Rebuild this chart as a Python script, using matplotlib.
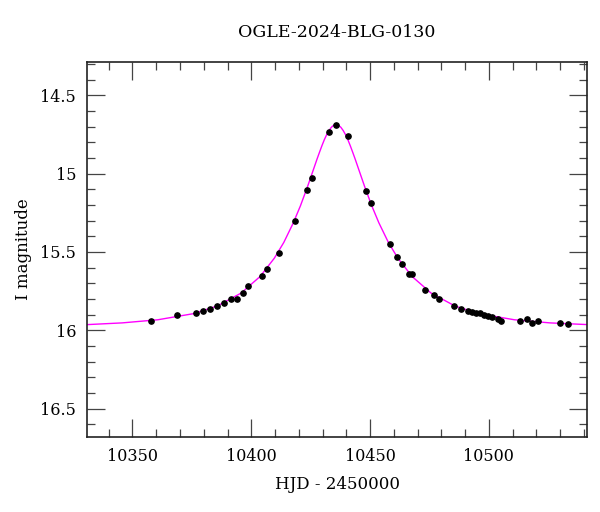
import numpy as np
import matplotlib
matplotlib.use("Agg")
import matplotlib.pyplot as plt
from matplotlib.ticker import MultipleLocator

# OGLE photometry (HJD - 2450000, I mag)
hjd = [10357.8, 10368.7, 10376.7, 10379.5, 10382.6, 10385.5, 10388.7, 10391.6,
       10393.8, 10396.6, 10398.6, 10404.6, 10406.7, 10411.5, 10418.5, 10423.5,
       10425.5, 10432.6, 10435.5, 10440.5, 10448.4, 10450.4, 10458.4, 10461.3,
       10463.4, 10466.2, 10467.5, 10473.2, 10477.1, 10479.1, 10485.4, 10488.2,
       10491.0, 10492.7, 10494.5, 10496.2, 10497.9, 10499.6, 10501.3, 10504.0,
       10505.2, 10513.0, 10516.1, 10518.1, 10520.8, 10529.8, 10533.2]
imag = [15.940, 15.902, 15.891, 15.874, 15.866, 15.847, 15.825, 15.800,
        15.800, 15.764, 15.717, 15.651, 15.606, 15.508, 15.302, 15.104,
        15.030, 14.734, 14.689, 14.760, 15.108, 15.185, 15.451, 15.532,
        15.578, 15.638, 15.642, 15.740, 15.774, 15.802, 15.845, 15.864,
        15.874, 15.881, 15.889, 15.893, 15.904, 15.908, 15.917, 15.925,
        15.942, 15.944, 15.931, 15.951, 15.938, 15.951, 15.963]
ierr = [0.006] * len(hjd)

# model curve (magenta)
model_t = [10331.0, 10345.7, 10360.7, 10375.7, 10385.7, 10395.7, 10403.7, 10409.7,
           10413.7, 10417.7, 10420.7, 10423.7, 10425.7, 10427.7, 10428.7, 10429.7,
           10430.7, 10431.7, 10432.7, 10433.7, 10434.7, 10435.7, 10436.7, 10437.7,
           10438.7, 10439.7, 10440.7, 10441.7, 10442.7, 10443.7, 10445.7, 10447.7,
           10450.7, 10453.7, 10457.7, 10461.7, 10467.7, 10475.7, 10485.7, 10495.7,
           10510.7, 10525.7, 10541.5]
model_m = [15.964, 15.953, 15.933, 15.894, 15.845, 15.763, 15.657, 15.540,
           15.439, 15.314, 15.205, 15.082, 14.994, 14.906, 14.864, 14.823,
           14.785, 14.752, 14.725, 14.704, 14.691, 14.687, 14.691, 14.704,
           14.725, 14.752, 14.785, 14.823, 14.864, 14.906, 14.994, 15.082,
           15.205, 15.314, 15.439, 15.540, 15.657, 15.763, 15.845, 15.894,
           15.933, 15.953, 15.964]

plt.rcParams['font.family'] = ['DejaVu Serif']

fig = plt.figure(figsize=(6.0, 5.12), dpi=100)
ax = fig.add_axes([0.1455, 0.147, 0.8325, 0.731])

ax.plot(model_t, model_m, color='#ff00ff', lw=1.0, zorder=2)
ax.errorbar(hjd, imag, yerr=ierr, fmt='o', color='black', ms=3.8,
            elinewidth=0.8, capsize=0, zorder=3)

ax.set_xlim(10331, 10541.2)
ax.set_ylim(16.68, 14.29)

ax.xaxis.set_major_locator(MultipleLocator(50))
ax.xaxis.set_minor_locator(MultipleLocator(10))
ax.yaxis.set_major_locator(MultipleLocator(0.5))
ax.yaxis.set_minor_locator(MultipleLocator(0.1))
ax.yaxis.set_major_formatter(matplotlib.ticker.FuncFormatter(lambda v, p: f"{v:g}"))

ax.tick_params(which='both', direction='in', top=True, right=True,
               color='#444444', width=0.9, labelsize=11.5)
ax.tick_params(which='major', length=13, pad=8)
ax.tick_params(which='minor', length=5.5)
for s in ax.spines.values():
    s.set_linewidth(1.2)
    s.set_color('#222222')

ax.set_xlabel('HJD - 2450000', fontsize=12, labelpad=8)
ax.set_ylabel('I magnitude', fontsize=12, labelpad=6)
ax.set_title('OGLE-2024-BLG-0130', fontsize=12.5, pad=18)

fig.savefig('out.png', dpi=100)
plt.close(fig)
